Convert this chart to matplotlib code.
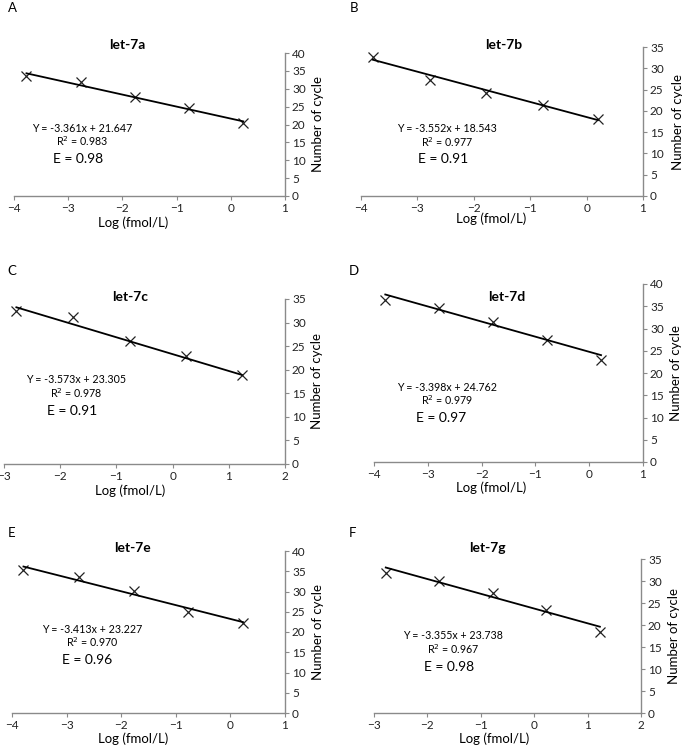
import matplotlib
matplotlib.use("Agg")
import matplotlib.pyplot as plt
import numpy as np

plt.rcParams['font.family'] = ['Lato', 'DejaVu Sans']

W, H = 682, 746

letters = ['A', 'B', 'C', 'D', 'E', 'F']
names = ['let-7a', 'let-7b', 'let-7c', 'let-7d', 'let-7e', 'let-7g']

# data points (log concentration, cycle number)
x_a = [-3.77, -2.77, -1.77, -0.77, 0.23]
y_a = [33.6, 31.9, 27.6, 24.6, 20.4]
x_b = [-3.79, -2.78, -1.79, -0.78, 0.20]
y_b = [32.7, 27.3, 24.1, 21.3, 18.2]
x_c = [-2.78, -1.78, -0.76, 0.23, 1.23]
y_c = [32.4, 31.1, 26.0, 23.0, 18.8]
x_d = [-3.79, -2.79, -1.78, -0.78, 0.22]
y_d = [36.5, 34.7, 31.5, 27.5, 23.0]
x_e = [-3.79, -2.78, -1.77, -0.78, 0.23]
y_e = [35.3, 33.6, 30.1, 25.0, 22.3]
x_f = [-2.78, -1.78, -0.77, 0.22, 1.23]
y_f = [31.8, 30.1, 27.2, 23.4, 18.4]
xs = [x_a, x_b, x_c, x_d, x_e, x_f]
ys = [y_a, y_b, y_c, y_d, y_e, y_f]

slopes = [-3.361, -3.552, -3.573, -3.398, -3.413, -3.355]
intercepts = [21.647, 18.543, 23.305, 24.762, 23.227, 23.738]
r2 = [0.983, 0.977, 0.978, 0.979, 0.970, 0.967]
eff = [0.98, 0.91, 0.91, 0.97, 0.96, 0.98]

xlims = [(-4, 1), (-4, 1), (-3, 2), (-4, 1), (-4, 1), (-3, 2)]
ymax = [40, 35, 35, 40, 40, 35]

# layout in pixels: left, right, top, bottom of each axes
boxes = [(14, 285, 53, 196), (361, 643, 47, 196),
         (4, 285, 299, 464), (374, 643, 284, 462),
         (12, 285, 551, 713), (374, 641, 559, 713)]
title_pos = [(0.417, 1.056), (0.507, 1.013), (0.448, 1.012),
             (0.494, 0.927), (0.443, 1.019), (0.423, 1.071)]
eq_pos = [(0.25, 0.474, 0.381, 0.237, 0.257),
          (0.304, 0.453, 0.364, 0.29, 0.246),
          (0.258, 0.512, 0.427, 0.242, 0.319),
          (0.27, 0.42, 0.345, 0.248, 0.25),
          (0.293, 0.517, 0.435, 0.274, 0.326),
          (0.2975, 0.504, 0.417, 0.28, 0.30)]
ylab_x = [318, 678, 317, 676, 318, 674]
xlab = [(133, 223), (491, 219), (130, 491), (491, 488), (133, 739), (494, 739)]
letter_pos = [(12, 8), (354, 8), (12, 271), (354, 271), (12, 533), (353, 533)]

fig = plt.figure(figsize=(W / 100, H / 100), dpi=100)
grey = '#8a8a8a'

for i in range(6):
    l, r, t, b = boxes[i]
    ax = fig.add_axes([l / W, 1 - b / H, (r - l) / W, (b - t) / H])
    ax.plot(xs[i], ys[i], 'x', color='#222222', ms=6.5, mew=0.9)
    xx = np.array([min(xs[i]), max(xs[i])])
    ax.plot(xx, slopes[i] * xx + intercepts[i], color='black', lw=1.3)
    ax.set_xlim(*xlims[i])
    ax.set_ylim(0, ymax[i])
    ax.set_xticks(range(xlims[i][0], xlims[i][1] + 1))
    ax.set_yticks(range(0, ymax[i] + 1, 5))
    for s in ['top', 'left']:
        ax.spines[s].set_visible(False)
    for s in ['bottom', 'right']:
        ax.spines[s].set_color(grey)
        ax.spines[s].set_linewidth(1.0)
    ax.yaxis.tick_right()
    ax.tick_params(axis='both', colors=grey, labelcolor='#222222', labelsize=8.5,
                   length=3, width=0.8, pad=2)
    ax.patch.set_visible(False)
    tx, ty = title_pos[i]
    ax.text(tx, ty, names[i], transform=ax.transAxes, ha='center', va='center',
            fontsize=10, fontweight='bold')
    ex, ey1, ey2, epx, epy = eq_pos[i]
    ax.text(ex, ey1, 'Y = %.3fx + %.3f' % (slopes[i], intercepts[i]),
            transform=ax.transAxes, ha='center', va='center', fontsize=7.7)
    ax.text(ex, ey2, 'R$^2$ = %.3f' % r2[i], transform=ax.transAxes,
            ha='center', va='center', fontsize=7.7)
    ax.text(epx, epy, 'E = %.2f' % eff[i], transform=ax.transAxes,
            ha='center', va='center', fontsize=10)
    fig.text(ylab_x[i] / W, 1 - ((t + b) / 2) / H, 'Number of cycle',
             rotation=90, ha='center', va='center', fontsize=9.5)
    fig.text(xlab[i][0] / W, 1 - xlab[i][1] / H, 'Log (fmol/L)',
             ha='center', va='center', fontsize=9.5)
    fig.text(letter_pos[i][0] / W, 1 - letter_pos[i][1] / H, letters[i],
             ha='center', va='center', fontsize=9.5)

fig.savefig('out.png', dpi=100)
